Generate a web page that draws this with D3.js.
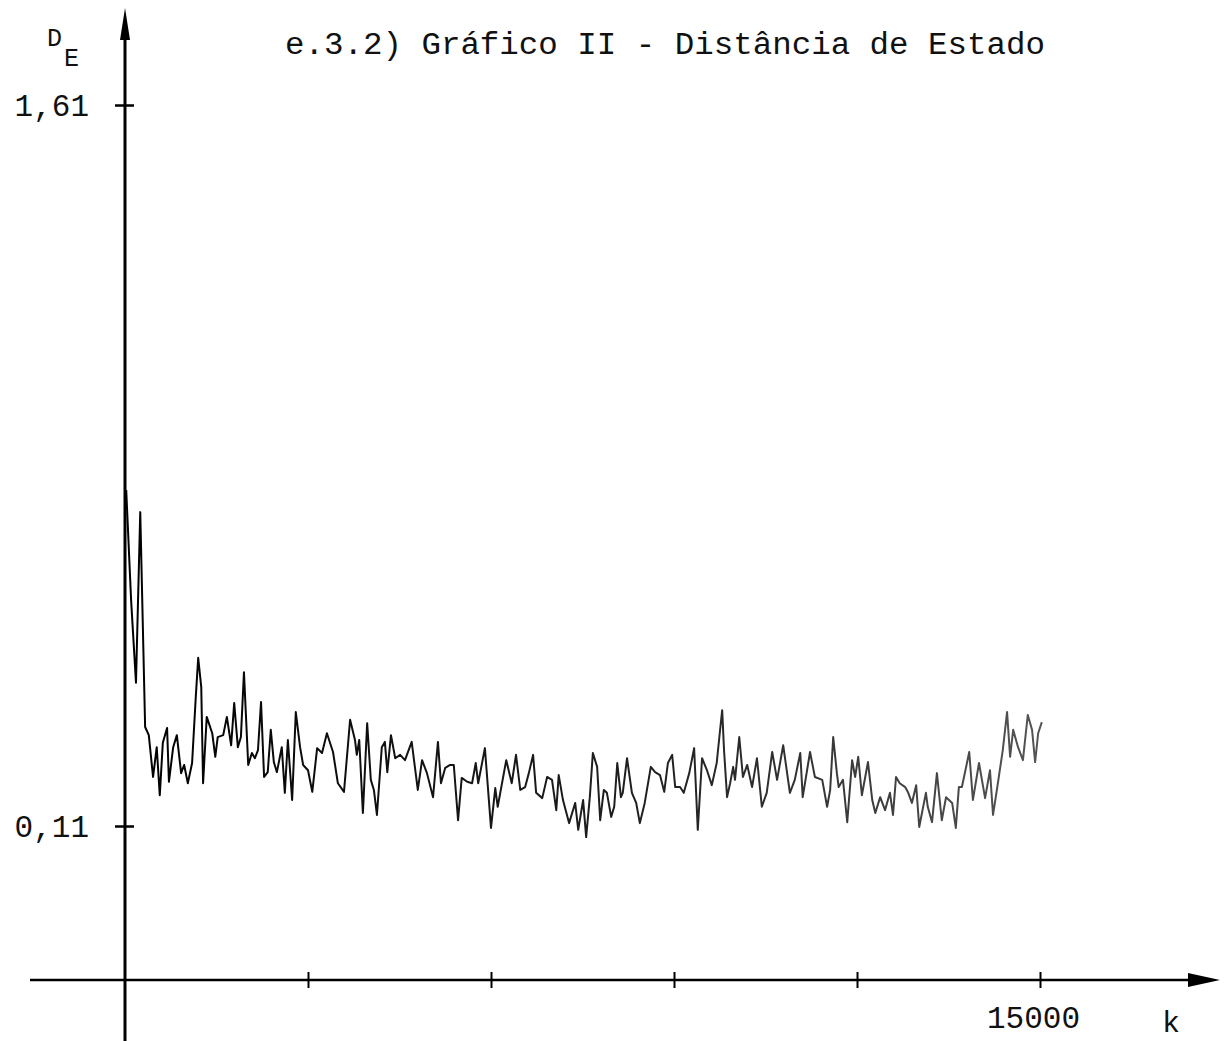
<!DOCTYPE html>
<html>
<head>
<meta charset="utf-8">
<script src="https://cdn.jsdelivr.net/npm/d3@7"></script>
<style>
  body { margin: 0; background: #fff; }
  text { font-family: "Liberation Mono", "DejaVu Sans Mono", monospace; fill: #111; }
</style>
</head>
<body>
<script>
// values
var kValues = [20, 100, 180, 250, 330, 390, 460, 520, 570, 620, 690, 720, 790, 850, 920, 970, 1030, 1100,
  1160, 1200, 1250, 1280, 1340, 1430, 1480, 1520, 1610, 1670, 1740, 1790, 1850, 1900, 1950, 2020, 2080,
  2130, 2180, 2230, 2280, 2340, 2390, 2440, 2490, 2570, 2620, 2670, 2740, 2800, 2870, 2920, 3000, 3070,
  3150, 3230, 3310, 3410, 3490, 3590, 3690, 3770, 3800, 3840, 3900, 3970, 4030, 4080, 4130, 4210, 4260,
  4300, 4360, 4430, 4510, 4590, 4700, 4800, 4870, 4950, 5050, 5130, 5180, 5250, 5330, 5390, 5460, 5520,
  5610, 5690, 5750, 5790, 5900, 6000, 6070, 6110, 6250, 6340, 6410, 6480, 6560, 6620, 6690, 6740, 6840,
  6920, 7000, 7070, 7110, 7180, 7280, 7380, 7430, 7510, 7560, 7620, 7670, 7740, 7790, 7850, 7900, 7970,
  8020, 8070, 8130, 8160, 8230, 8310, 8380, 8440, 8520, 8620, 8690, 8770, 8840, 8900, 8970, 9020, 9100,
  9160, 9250, 9330, 9390, 9460, 9540, 9620, 9700, 9750, 9790, 9820, 9870, 9920, 9970, 10000, 10070, 10130,
  10200, 10280, 10360, 10440, 10520, 10610, 10690, 10790, 10900, 10980, 11070, 11110, 11230, 11310, 11430,
  11510, 11560, 11610, 11670, 11700, 11770, 11840, 11920, 11970, 12020, 12080, 12180, 12250, 12300, 12380,
  12460, 12540, 12590, 12640, 12700, 12790, 12840, 12900, 12970, 13020, 13130, 13160, 13230, 13310, 13390,
  13460, 13560, 13620, 13670, 13720, 13840, 13900, 14000, 14100, 14180, 14230, 14300, 14390, 14460, 14510,
  14560, 14640, 14720, 14800, 14870, 14920, 14970, 15030];
var dValues = [0.809, 0.580, 0.408, 0.763, 0.316, 0.299, 0.212, 0.274, 0.174, 0.283, 0.314, 0.202, 0.274,
  0.299, 0.220, 0.237, 0.199, 0.241, 0.378, 0.460, 0.399, 0.199, 0.337, 0.303, 0.254, 0.295, 0.299, 0.337,
  0.278, 0.366, 0.274, 0.295, 0.430, 0.237, 0.262, 0.251, 0.268, 0.368, 0.212, 0.222, 0.310, 0.243, 0.222,
  0.274, 0.179, 0.289, 0.164, 0.347, 0.274, 0.237, 0.226, 0.181, 0.272, 0.262, 0.303, 0.264, 0.199, 0.181,
  0.331, 0.289, 0.258, 0.289, 0.137, 0.324, 0.206, 0.185, 0.133, 0.274, 0.285, 0.222, 0.299, 0.251, 0.258,
  0.247, 0.285, 0.185, 0.247, 0.220, 0.170, 0.285, 0.199, 0.231, 0.237, 0.237, 0.122, 0.210, 0.202, 0.199,
  0.241, 0.199, 0.272, 0.106, 0.189, 0.150, 0.247, 0.199, 0.258, 0.185, 0.191, 0.220, 0.258, 0.179, 0.168,
  0.212, 0.206, 0.143, 0.216, 0.164, 0.116, 0.158, 0.102, 0.164, 0.087, 0.170, 0.262, 0.233, 0.122, 0.185,
  0.179, 0.129, 0.150, 0.241, 0.170, 0.179, 0.251, 0.179, 0.158, 0.116, 0.158, 0.233, 0.222, 0.216, 0.181,
  0.241, 0.258, 0.191, 0.191, 0.179, 0.220, 0.272, 0.102, 0.251, 0.226, 0.195, 0.241, 0.303, 0.351, 0.268,
  0.170, 0.199, 0.233, 0.206, 0.295, 0.212, 0.237, 0.191, 0.251, 0.150, 0.179, 0.264, 0.206, 0.278, 0.179,
  0.206, 0.262, 0.170, 0.264, 0.212, 0.206, 0.150, 0.185, 0.295, 0.220, 0.191, 0.206, 0.118, 0.247, 0.212,
  0.254, 0.174, 0.243, 0.164, 0.137, 0.170, 0.143, 0.179, 0.133, 0.212, 0.199, 0.191, 0.179, 0.158, 0.195,
  0.108, 0.179, 0.150, 0.118, 0.220, 0.122, 0.170, 0.158, 0.106, 0.191, 0.191, 0.264, 0.164, 0.241, 0.168,
  0.226, 0.133, 0.191, 0.268, 0.347, 0.254, 0.310, 0.274, 0.247, 0.341, 0.310, 0.243, 0.303, 0.326];
var yTicks = [0.11, 1.61];
var xTicks = [3000, 6000, 9000, 12000, 15000];
var xLabelled = [15000];
var title = "e.3.2) Gráfico II - Distância de Estado";

(function(){
	const W = 1229, H = 1041;
	const AXIS_X = 125, AXIS_Y = 980;

	var svg = d3.select('body').append('svg')
		.attr('width', W)
		.attr('height', H);

	var x = d3.scaleLinear().domain([0, 15000]).range([AXIS_X, 1040]);
	var y = d3.scaleLinear().domain([0.11, 1.61]).range([826, 105]);

	// ink gets fainter towards the right, like the scan
	var grad = svg.append('defs').append('linearGradient')
		.attr('id', 'ink')
		.attr('gradientUnits', 'userSpaceOnUse')
		.attr('x1', AXIS_X).attr('x2', 1045).attr('y1', 0).attr('y2', 0);
	grad.append('stop').attr('offset', '0%').attr('stop-color', '#000');
	grad.append('stop').attr('offset', '60%').attr('stop-color', '#222');
	grad.append('stop').attr('offset', '100%').attr('stop-color', '#555');

	// Y axis line + arrow
	svg.append('line')
		.attr('x1', AXIS_X).attr('x2', AXIS_X)
		.attr('y1', 1041).attr('y2', 30)
		.attr('stroke', '#000').attr('stroke-width', 3);
	svg.append('path')
		.attr('d', 'M' + AXIS_X + ',8 L' + (AXIS_X - 5) + ',40 L' + (AXIS_X + 5) + ',40 Z')
		.attr('fill', '#000');

	// X axis line + arrow
	svg.append('line')
		.attr('x1', 30).attr('x2', 1195)
		.attr('y1', AXIS_Y).attr('y2', AXIS_Y)
		.attr('stroke', '#000').attr('stroke-width', 2.5);
	svg.append('path')
		.attr('d', 'M1220,' + AXIS_Y + ' L1188,' + (AXIS_Y - 7) + ' L1188,' + (AXIS_Y + 7) + ' Z')
		.attr('fill', '#000');

	// y ticks
	var yAxis = svg.append('g')
		.attr('transform', 'translate(' + AXIS_X + ',0)')
		.call(d3.axisLeft(y).tickValues(yTicks).tickSize(10).tickPadding(26)
			.tickFormat(function(d){ return d.toFixed(2).replace('.', ','); }));
	yAxis.select('.domain').remove();
	yAxis.selectAll('.tick line').attr('x1', 9).attr('stroke', '#000').attr('stroke-width', 2.5);
	yAxis.selectAll('.tick text')
		.attr('font-size', 31)
		.attr('font-family', '"Liberation Mono", monospace')
		.attr('fill', '#111')
		.attr('dy', '0.35em');

	// x ticks
	var xAxis = svg.append('g')
		.attr('transform', 'translate(0,' + AXIS_Y + ')')
		.call(d3.axisBottom(x).tickValues(xTicks).tickSize(8).tickPadding(18)
			.tickFormat(function(d){ return xLabelled.indexOf(d) >= 0 ? d : ''; }));
	xAxis.select('.domain').remove();
	xAxis.selectAll('.tick line').attr('y1', -8).attr('stroke', '#000').attr('stroke-width', 2);
	xAxis.selectAll('.tick text')
		.attr('font-size', 31)
		.attr('font-family', '"Liberation Mono", monospace')
		.attr('fill', '#111')
		.attr('dx', -7);

	// series
	var pts = kValues.map(function(k, i){ return [k, dValues[i]]; });
	var line = d3.line()
		.x(function(d){ return x(d[0]); })
		.y(function(d){ return y(d[1]); });
	svg.append('path')
		.datum(pts)
		.attr('fill', 'none')
		.attr('stroke', 'url(#ink)')
		.attr('stroke-width', 2)
		.attr('stroke-linejoin', 'round')
		.attr('d', line);

	// texts
	svg.append('text')
		.attr('x', 285).attr('y', 54)
		.attr('font-size', 31)
		.attr('textLength', 760)
		.attr('lengthAdjust', 'spacingAndGlyphs')
		.text(title);
	svg.append('text').attr('x', 47).attr('y', 46).attr('font-size', 25).text('D');
	svg.append('text').attr('x', 64).attr('y', 66).attr('font-size', 25).text('E');
	svg.append('text').attr('x', 1162).attr('y', 1032).attr('font-size', 30).text('k');
})();
</script>
</body>
</html>
